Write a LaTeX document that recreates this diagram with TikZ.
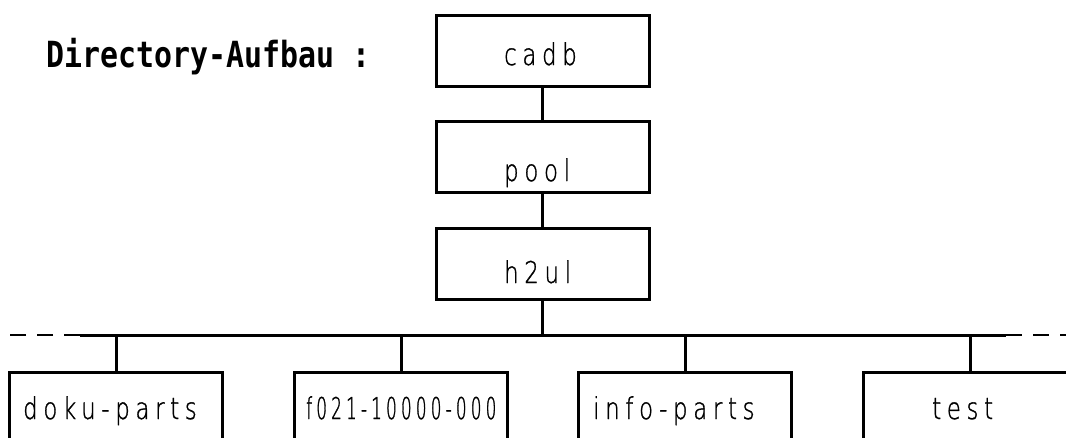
\documentclass[tikz,border=0pt]{standalone}
\usepackage{fontspec}
\newfontfamily\boxfont[FakeStretch=0.76,LetterSpace=19,FakeBold=1]{DejaVu Sans ExtraLight}
\newfontfamily\numfont[FakeStretch=0.56,LetterSpace=14,FakeBold=1]{DejaVu Sans ExtraLight}
\newfontfamily\titlefont[FakeStretch=0.83]{DejaVu Sans Mono Bold}
\begin{document}
\begin{tikzpicture}[x=1pt,y=-1pt,
  ln/.style={line width=3pt},
  box/.style={draw,line width=3pt,minimum width=213pt,minimum height=71pt,inner sep=0pt},
  obox/.style={draw,line width=3pt,inner sep=0pt,anchor=north,minimum width=213pt,minimum height=100pt},
  lbl/.style={font=\boxfont\fontsize{30}{32}\selectfont,anchor=base west,inner sep=0pt},
  nlbl/.style={font=\numfont\fontsize{30}{32}\selectfont,anchor=base west,inner sep=0pt},
  dsh/.style={line width=1.7pt,dash pattern=on 16pt off 11pt}]
\useasboundingbox (0,0) rectangle (1066,437);
\clip (0,0) rectangle (1066,437);
% title
\node[font=\titlefont\fontsize{36}{38}\selectfont,anchor=base west,inner sep=0pt] (title) at (46.5,67.5) {Directory-Aufbau :};
% top chain
\node[box] (cadb) at (542.5,50.5) {};
\node[box] (pool) at (542.5,157) {};
\node[box] (h2ul) at (542.5,264) {};
\node[lbl] (tcadb) at (504,65) {cadb};
\node[lbl] (tpool) at (504,181) {pool};
\node[lbl] (th2ul) at (504,283) {h2ul};
\draw[ln] (cadb.south) -- (pool.north);
\draw[ln] (pool.south) -- (h2ul.north);
% bus
\coordinate (busL) at (80,335);
\coordinate (busR) at (1006,335);
\coordinate (dashL) at (9,335);
\coordinate (dashR) at (1070,335);
\coordinate (hb) at (h2ul.south |- busL);
\draw[ln] (h2ul.south) -- (hb);
\draw[ln] (busL) -- (busR);
\draw[dsh] (busL) -- (dashL);
\draw[dsh] (busR) -- (dashR);
% bottom boxes
\node[obox] (b1) at (116,371) {};
\node[obox] (b2) at (401,371) {};
\node[obox] (b3) at (685,371) {};
\node[obox] (b4) at (970,371) {};
\node[lbl] (t1) at (23,419) {doku-parts};
\node[nlbl] (t2) at (306,419) {f021-10000-000};
\node[lbl] (t3) at (593,419) {info-parts};
\node[lbl] (t4) at (932,419) {test};
\foreach \b in {b1,b2,b3,b4}{
  \draw[ln] (\b.north |- busL) -- (\b.north);
}
\end{tikzpicture}
\end{document}
